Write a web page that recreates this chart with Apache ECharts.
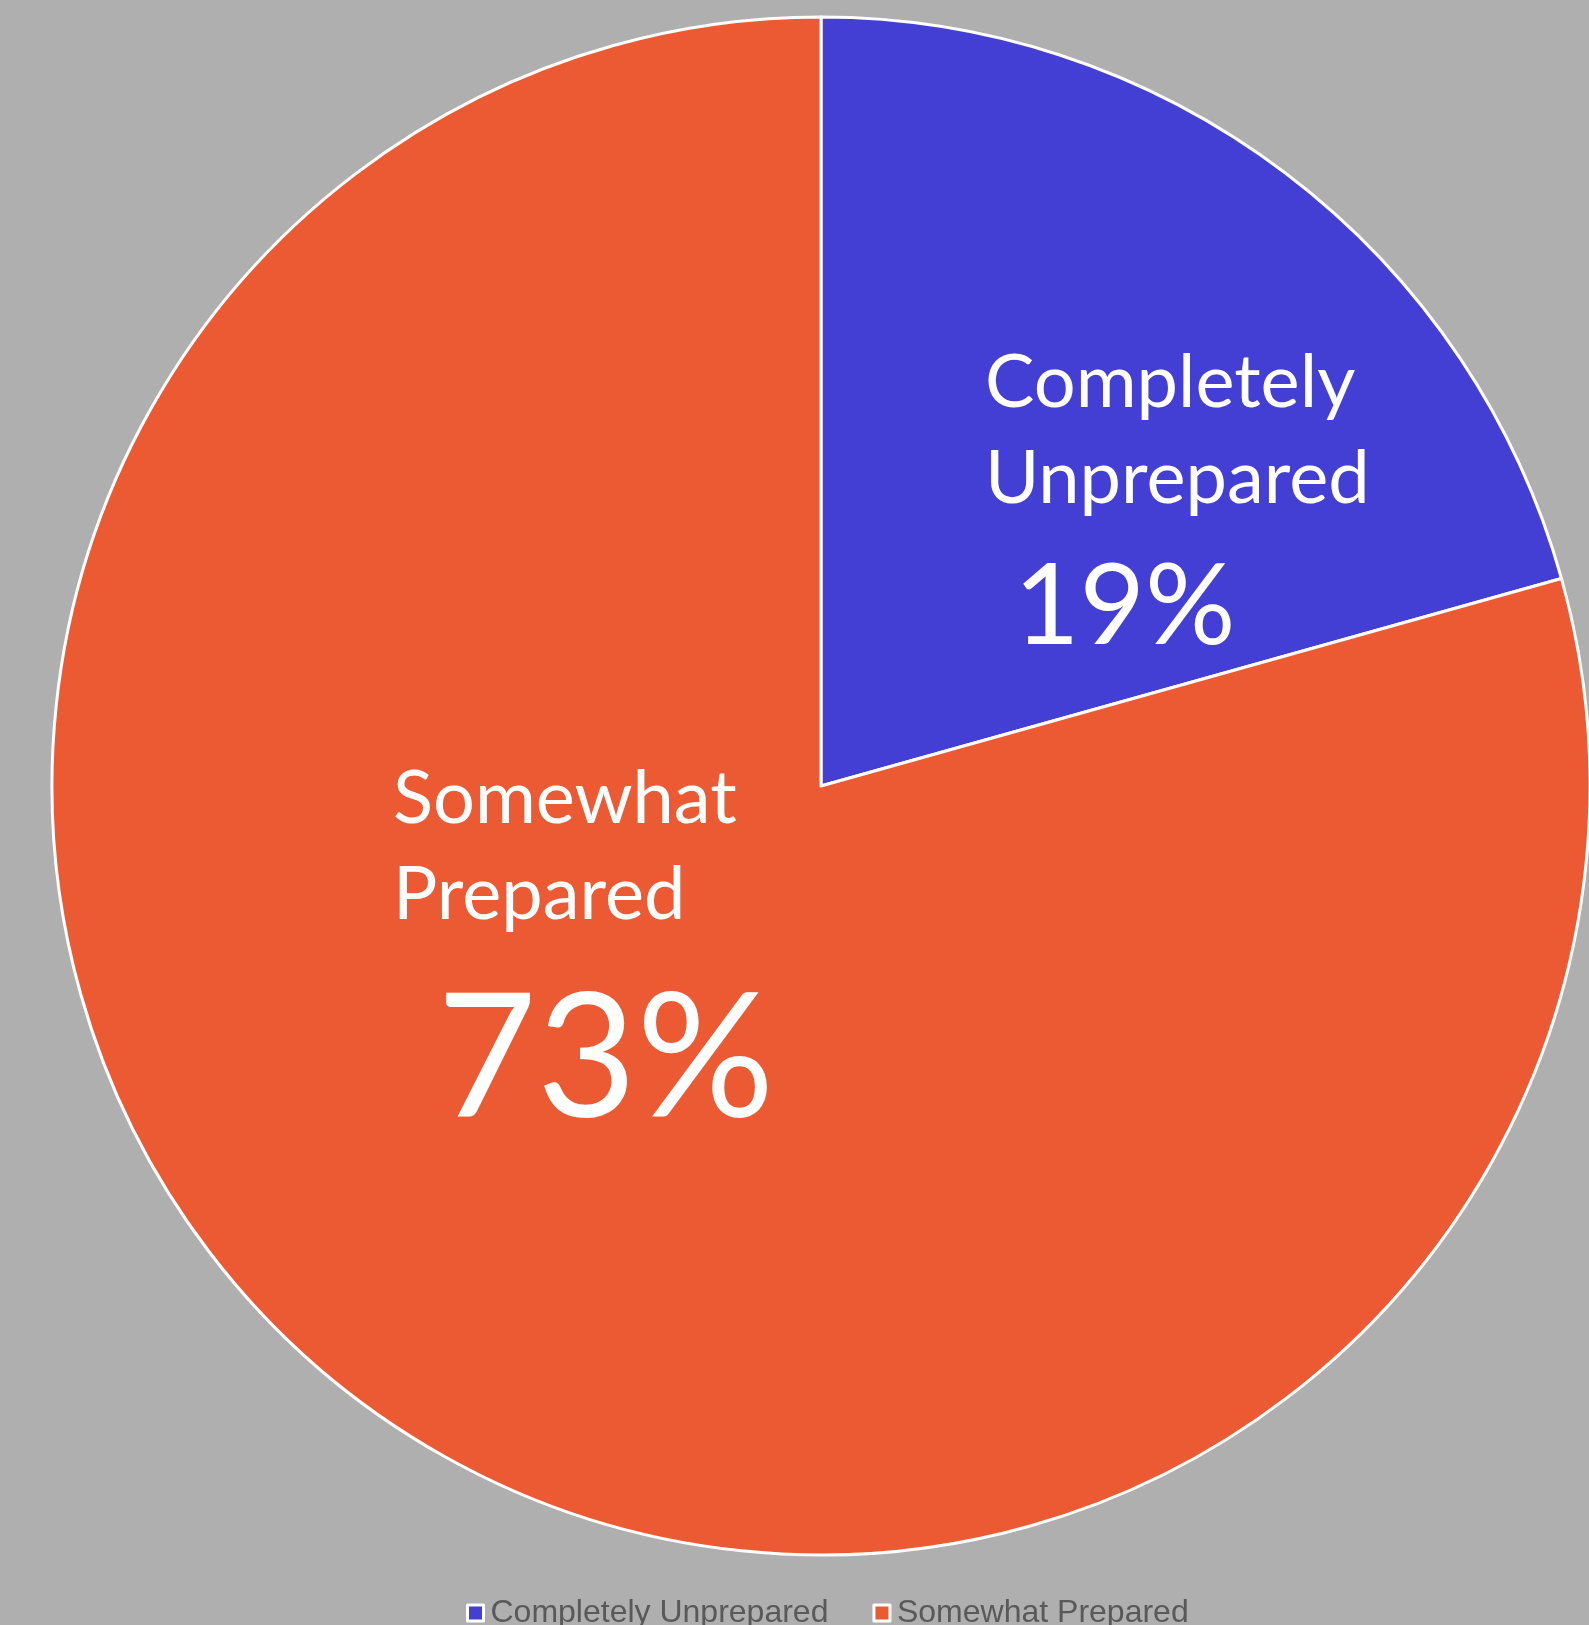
<!DOCTYPE html>
<html>
<head>
<meta charset="utf-8">
<title>Preparedness</title>
<script src="https://cdn.jsdelivr.net/npm/echarts@6/dist/echarts.min.js"></script>
<style>
  html, body { margin: 0; padding: 0; background: #afafaf; }
  #chart { width: 1589px; height: 1625px; }
</style>
</head>
<body>
<div id="chart"></div>
<script>
// Survey answers and their shares (percent)
const categories = ['Completely Unprepared', 'Somewhat Prepared'];
const shares = [19, 73];
// Label lines: category name split over two lines
const labelLines = [['Completely', 'Unprepared'], ['Somewhat', 'Prepared']];

const sliceColors = ['#443fd4', '#ec5a33'];
// Top-left corner of each slice's label block, and the size / line height of its percentage
const labelSpots = [{ x: 985, y: 335 }, { x: 393, y: 751 }];
const pctSizes = [[113, 161], [172, 238]];

const labelFont = 'Lato, "Open Sans", sans-serif';

const chart = echarts.init(document.getElementById('chart'), null, { renderer: 'canvas' });

const data = categories.map((name, i) => ({
  name: name,
  value: shares[i],
  itemStyle: { color: sliceColors[i] },
  label: {
    formatter: () => '{n|' + labelLines[i][0] + '}\n{n|' + labelLines[i][1] + '}\n{p' + i + '| ' + shares[i] + '%}'
  }
}));

chart.setOption({
  backgroundColor: '#afafaf',
  animation: false,
  legend: {
    data: categories,
    left: 461,
    top: 1592,
    itemGap: 44,
    itemWidth: 16,
    itemHeight: 16,
    icon: 'rect',
    itemStyle: { borderColor: '#ffffff', borderWidth: 3 },
    textStyle: {
      color: '#595959',
      fontSize: 32,
      fontFamily: '"Liberation Sans", Arial, sans-serif',
      padding: [0, 0, 0, 2]
    }
  },
  series: [{
    type: 'pie',
    center: [821, 786],
    radius: 769,
    startAngle: 90,
    clockwise: true,
    data: data,
    itemStyle: { borderColor: '#ffffff', borderWidth: 3 },
    labelLine: { show: false },
    label: {
      show: true,
      position: 'inside',
      color: '#ffffff',
      align: 'left',
      fontFamily: labelFont,
      rich: {
        n: { fontSize: 74, lineHeight: 96, color: '#ffffff', fontFamily: labelFont },
        p0: { fontSize: pctSizes[0][0], lineHeight: pctSizes[0][1], color: '#ffffff', fontFamily: labelFont },
        p1: { fontSize: pctSizes[1][0], lineHeight: pctSizes[1][1], color: '#ffffff', fontFamily: labelFont }
      }
    },
    labelLayout: function (params) {
      const spot = labelSpots[params.dataIndex];
      return { x: spot.x, y: spot.y, align: 'left', verticalAlign: 'top' };
    },
    emphasis: { disabled: true }
  }]
});
</script>
</body>
</html>
